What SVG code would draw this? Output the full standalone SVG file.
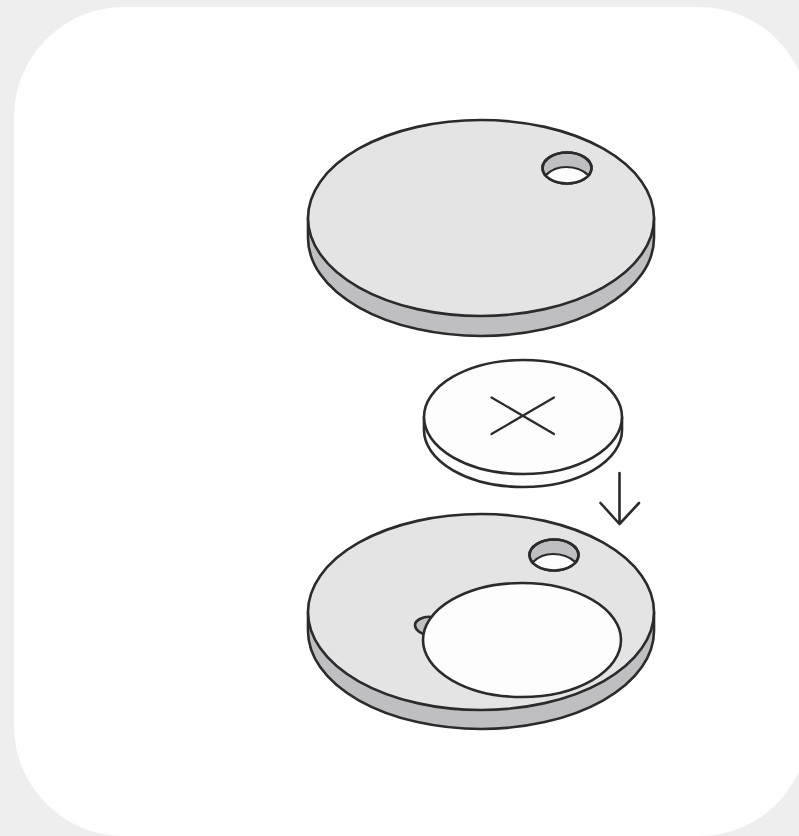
<svg xmlns="http://www.w3.org/2000/svg" width="799" height="836" viewBox="0 0 799 836">
<style>
.l{stroke:#2b2b2b;stroke-width:2.6;fill:none;stroke-linejoin:round;stroke-linecap:round}
.t{stroke:#2b2b2b;stroke-width:2.2;fill:none;stroke-linecap:round}
.face{fill:#e4e4e5}.side{fill:#bfbfc1}.w{fill:#fdfdfd}
</style>
<rect width="799" height="836" fill="#eeeeee"/>
<rect x="14" y="7" width="795" height="829" rx="110" ry="110" fill="#ffffff"/>
<g id="top-disc">
<path class="side l" d="M308 218V238A173 98 0 0 0 654 238V218Z"/>
<ellipse class="face l" cx="481" cy="218" rx="173" ry="98"/>
<ellipse class="side l" cx="567" cy="168" rx="24.500" ry="15.500"/>
<path class="w" d="M546 174C552 169 558 167 566 167C574 167 584 170 589 175C584 181 576 183.500 567 183.500C558 183.500 550 180 546 174Z"/>
<path class="t" d="M546 175C552 169 558 167 566 167C574 167 583 170 588 175"/>
<ellipse class="l" cx="567" cy="168" rx="24.500" ry="15.500"/>
</g>
<g id="coin">
<path class="w l" d="M424 417V430A99 57 0 0 0 622 430V417Z"/>
<ellipse class="w l" cx="523" cy="417" rx="99" ry="57"/>
<path class="t" d="M491.500 397.500L554 434M554 397.500L491.500 434"/>
</g>
<g id="bottom-disc">
<path class="side l" d="M308 612V631A173 98 0 0 0 654 631V612Z"/>
<ellipse class="face l" cx="481" cy="612" rx="173" ry="98"/>
<ellipse class="side l" cx="554" cy="555" rx="24.500" ry="15.500"/>
<path class="w" d="M533 561C539 556 545 554 553 554C561 554 571 557 576 562C571 568 563 570.500 554 570.500C545 570.500 537 567 533 561Z"/>
<path class="t" d="M533 562C539 556 545 554 553 554C561 554 570 557 575 562"/>
<ellipse class="l" cx="554" cy="555" rx="24.500" ry="15.500"/>
<path class="side l" d="M431 617C424 616 415 620 415 625C415 630 421 634 427 635Z"/>
<ellipse class="w l" cx="522" cy="640" rx="99" ry="57"/>
</g>
<g id="connectors">
<path class="l" d="M619.500 473V524M600.500 503L619.500 524L639 503"/>
</g>
</svg>
